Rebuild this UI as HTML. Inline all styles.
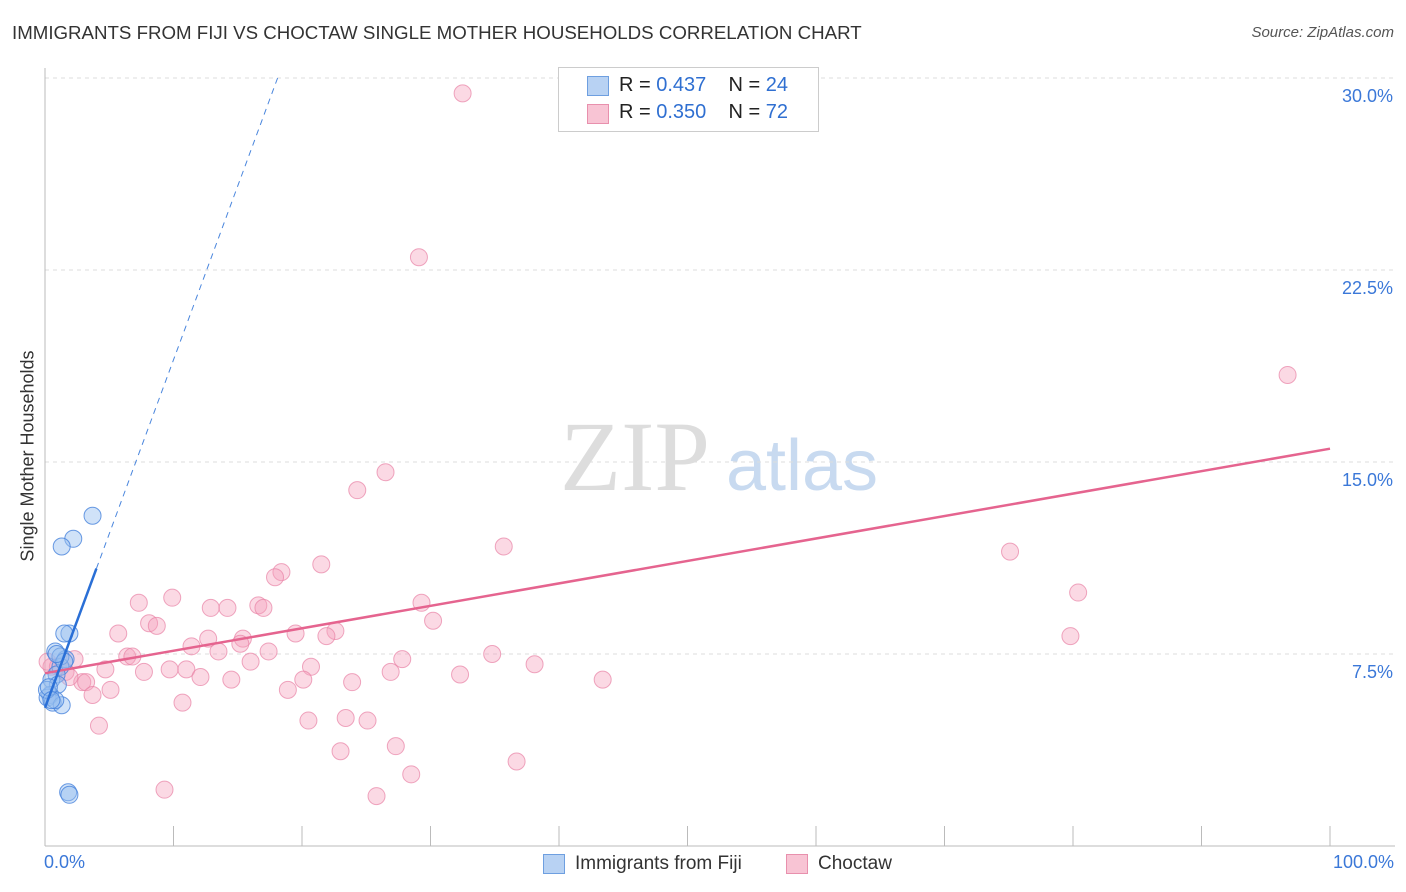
<!DOCTYPE html>
<html><head><meta charset="utf-8">
<style>
body{margin:0;background:#fff;font-family:"Liberation Sans",sans-serif;}
#wrap{position:relative;width:1406px;height:892px;overflow:hidden;}
.t{position:absolute;white-space:nowrap;}
</style></head><body>
<div id="wrap">
<div class="t" style="left:12px;top:22px;font-size:18.7px;color:#333;">IMMIGRANTS FROM FIJI VS CHOCTAW SINGLE MOTHER HOUSEHOLDS CORRELATION CHART</div>
<div class="t" style="right:12px;top:24px;font-size:15px;color:#555;font-style:italic;">Source: ZipAtlas.com</div>
<svg id="svg" width="1406" height="892" style="position:absolute;left:0;top:0">
<text x="635" y="490" font-family="Liberation Serif" font-size="100" fill="#ddd" text-anchor="middle">ZIP</text>
<text x="802" y="490" font-family="Liberation Sans" font-size="72" fill="#c8daf0" text-anchor="middle">atlas</text>
</svg>
<div class="t" style="left:558px;top:67px;width:259px;height:63px;border:1px solid #ccc;background:#fff;">
<div style="position:absolute;left:28px;top:8px;width:20px;height:18px;background:#b8d2f3;border:1px solid #6e9fe0"></div>
<div class="t" style="left:60px;top:6px;font-size:20px;color:#222">R = <span style="color:#2f6fd1">0.437</span>&nbsp;&nbsp;&nbsp; N = <span style="color:#2f6fd1">24</span></div>
<div style="position:absolute;left:28px;top:36px;width:20px;height:18px;background:#f8c4d4;border:1px solid #e890ad"></div>
<div class="t" style="left:60px;top:33px;font-size:20px;color:#222">R = <span style="color:#2f6fd1">0.350</span>&nbsp;&nbsp;&nbsp; N = <span style="color:#2f6fd1">72</span></div>
</div>
<div class="t" style="top:456px;font-size:18px;color:#333;transform:translate(-50%,-50%) rotate(-90deg);transform-origin:center;left:28px;">Single Mother Households</div>
<div class="t" style="left:44px;top:852px;font-size:18px;color:#3b78d8">0.0%</div>
<div class="t" style="right:12px;top:852px;font-size:18px;color:#3b78d8">100.0%</div>
<div style="position:absolute;left:543px;top:854px;width:20px;height:18px;background:#b8d2f3;border:1px solid #6e9fe0"></div>
<div class="t" style="left:575px;top:853px;font-size:19px;color:#333">Immigrants from Fiji</div>
<div style="position:absolute;left:786px;top:854px;width:20px;height:18px;background:#f8c4d4;border:1px solid #e890ad"></div>
<div class="t" style="left:818px;top:853px;font-size:19px;color:#333">Choctaw</div>
</div>
<script>
const yTicks=[7.5,15,22.5,30];
const yTickLabels=["7.5%","15.0%","22.5%","30.0%"];
const fijiX=[3.7,2.2,1.3,1.9,1.5,0.8,1.6,1.2,0.9,0.5,1.0,0.4,0.2,0.6,1.3,0.8,1.8,1.9,0.15,0.3,1.2,1.5,0.9,0.5];
const fijiY=[12.9,12.0,11.7,8.3,8.3,7.6,7.3,7.0,6.7,6.5,6.3,5.9,5.8,5.6,5.5,5.7,2.1,2.0,6.1,6.2,7.4,7.2,7.5,5.7];
const choX=[32.5,29.1,96.7,26.5,24.3,35.7,75.1,21.5,18.4,17.9,80.4,7.3,9.9,29.3,12.9,14.2,16.6,17.0,8.1,8.7,30.2,5.7,22.6,19.5,21.9,79.8,12.7,15.4,15.2,11.4,13.5,17.4,6.4,6.8,34.8,27.8,2.3,20.7,38.1,16.0,4.7,7.7,9.7,11.0,26.9,32.3,12.1,14.5,20.1,2.9,3.2,23.9,43.4,18.9,5.1,3.7,10.7,23.4,20.5,25.1,4.2,23.0,27.3,36.7,28.5,9.3,25.8,0.5,1.0,1.6,0.2,1.9];
const choY=[29.4,23.0,18.4,14.6,13.9,11.7,11.5,11.0,10.7,10.5,9.9,9.5,9.7,9.5,9.3,9.3,9.4,9.3,8.7,8.6,8.8,8.3,8.4,8.3,8.2,8.2,8.1,8.1,7.9,7.8,7.6,7.6,7.4,7.4,7.5,7.3,7.3,7.0,7.1,7.2,6.9,6.8,6.9,6.9,6.8,6.7,6.6,6.5,6.5,6.4,6.4,6.4,6.5,6.1,6.1,5.9,5.6,5.0,4.9,4.9,4.7,3.7,3.9,3.3,2.8,2.2,1.95,7.0,7.0,6.8,7.2,6.6];
const fijiFit=[5.4,1.359];
const choFit=[6.75,0.0877];
const X=v=>45+v*12.85, Y=v=>846-v*25.6;
const svg=document.getElementById('svg');
const NS='http://www.w3.org/2000/svg';
function mk(t,a){const e=document.createElementNS(NS,t);for(const k in a)e.setAttribute(k,a[k]);svg.appendChild(e);return e;}
yTicks.forEach((t,i)=>{
 const l=mk('line',{x1:45,x2:1395,y1:Y(t),y2:Y(t),stroke:'#ddd','stroke-dasharray':'4,4'});
 
 
 const tx=mk('text',{x:1393,y:Y(t)+24,'text-anchor':'end','font-size':18,fill:'#3b78d8','font-family':'Liberation Sans'});
 tx.textContent=yTickLabels[i];
 
 
});
const ax=mk('line',{x1:45,x2:45,y1:68,y2:846,stroke:'#bbb'});


const bx=mk('line',{x1:45,x2:1395,y1:846,y2:846,stroke:'#bbb'});


for(let i=0;i<=10;i++){const tk=mk('line',{x1:X(i*10),x2:X(i*10),y1:826,y2:846,stroke:'#bbb'});
 
 }
choX.forEach((v,i)=>{const c=mk('circle',{cx:X(v),cy:Y(choY[i]),r:8.5,fill:'rgba(245,160,188,0.4)',stroke:'rgba(232,130,165,0.7)','stroke-width':1});
 
 });
fijiX.forEach((v,i)=>{const c=mk('circle',{cx:X(v),cy:Y(fijiY[i]),r:8.5,fill:'rgba(150,190,240,0.45)',stroke:'rgba(70,130,220,0.8)','stroke-width':1});
 
 });
const cl=mk('line',{x1:X(0),y1:Y(choFit[0]),x2:X(100),y2:Y(choFit[0]+choFit[1]*100),stroke:'#e5648f','stroke-width':2.5});


const fEnd=(30-fijiFit[0])/fijiFit[1];
const fl=mk('line',{x1:X(0),y1:Y(fijiFit[0]),x2:X(4),y2:Y(fijiFit[0]+fijiFit[1]*4),stroke:'#2a6fd6','stroke-width':2.5});


const fd=mk('line',{x1:X(4),y1:Y(fijiFit[0]+fijiFit[1]*4),x2:X(fEnd),y2:Y(30),stroke:'#4a86dd','stroke-width':1,'stroke-dasharray':'6,5'});


</script>
</body></html>
